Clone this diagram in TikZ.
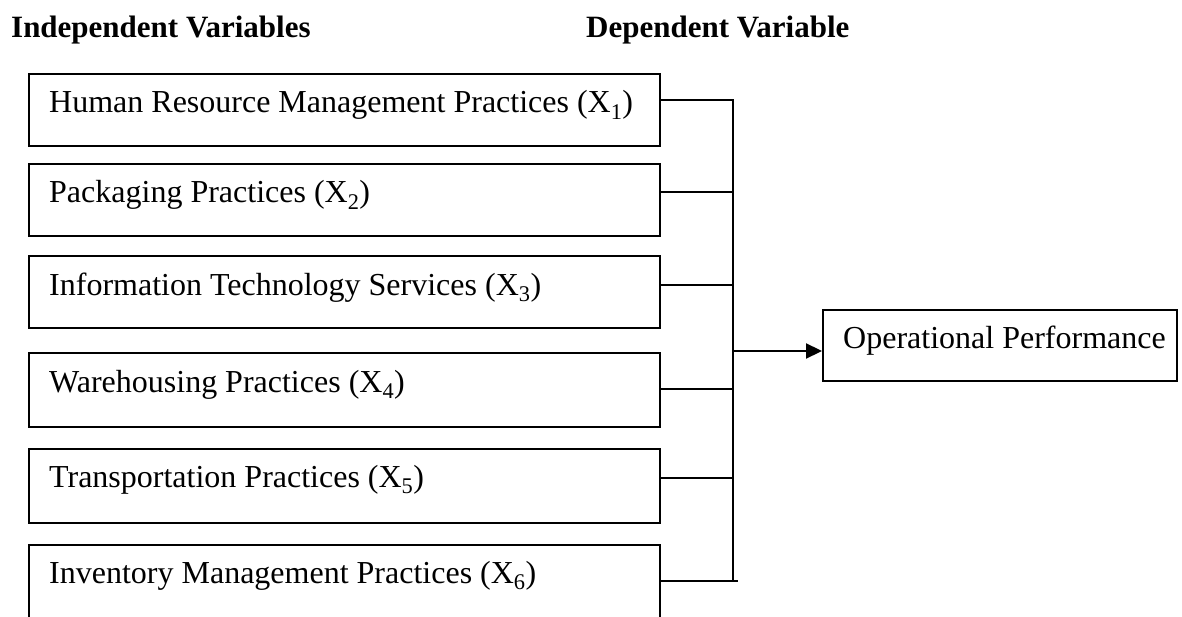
\documentclass[tikz,border=0pt]{standalone}
\usepackage{fontspec}
\setmainfont{Liberation Serif}
\usetikzlibrary{arrows.meta,calc}
\tikzset{
  ivbox/.style={draw, line width=1.6pt, anchor=north west, minimum width=631pt, minimum height=72pt, inner sep=0pt},
  lbl/.style={anchor=base west, inner sep=0pt, font=\fontsize{32}{38}\selectfont},
  hdr/.style={anchor=base west, inner sep=0pt, font=\fontsize{31}{37}\selectfont\bfseries},
  conn/.style={line width=1.6pt},
  arr/.style={line width=2.2pt, -{Triangle[length=16pt,width=15pt]}}
}
\begin{document}
\begin{tikzpicture}[x=1pt,y=-1pt]
\useasboundingbox (0,0) rectangle (1182,617);
\clip (0,0) rectangle (1182,617);
\node[hdr] (h1) at (11,38) {Independent Variables};
\node[hdr] (h2) at (586,38) {Dependent Variable};
\node[ivbox] (b1) at (28,73) {};
\node[ivbox] (b2) at (28,163) {};
\node[ivbox] (b3) at (28,255) {};
\node[ivbox, minimum height=74pt] (b4) at (28,352) {};
\node[ivbox, minimum height=74pt] (b5) at (28,448) {};
\node[ivbox, minimum height=110pt] (b6) at (28,544) {};
\node[lbl] (t1) at ($(b1.north west)+(21,40)$) {Human Resource Management Practices (X\textsubscript{1})};
\node[lbl] (t2) at ($(b2.north west)+(21,40)$) {Packaging Practices (X\textsubscript{2})};
\node[lbl] (t3) at ($(b3.north west)+(21,40)$) {Information Technology Services (X\textsubscript{3})};
\node[lbl] (t4) at ($(b4.north west)+(21,40)$) {Warehousing Practices (X\textsubscript{4})};
\node[lbl] (t5) at ($(b5.north west)+(21,39)$) {Transportation Practices (X\textsubscript{5})};
\node[lbl] (t6) at ($(b6.north west)+(21,39)$) {Inventory Management Practices (X\textsubscript{6})};
\node[draw, line width=1.6pt, anchor=north west, minimum width=354pt, minimum height=71pt, inner sep=0pt] (op) at (822,309) {};
\node[lbl] (top) at ($(op.north west)+(21,39)$) {Operational Performance};
\coordinate (v1) at (733,100);
\coordinate (v6) at (733,581);
\coordinate (v6e) at (738,581);
\coordinate (va) at (733,351);
\draw[conn] (b1.east |- v1) -- (v1) -- (v6);
\draw[conn] (b2.east |- 0,192) -- (733,192);
\draw[conn] (b3.east |- 0,285) -- (733,285);
\draw[conn] (b4.east |- 0,389) -- (733,389);
\draw[conn] (b5.east |- 0,478) -- (733,478);
\draw[conn] (b6.east |- v6) -- (v6e);
\draw[arr] (va) -- (op.west |- va);
\end{tikzpicture}
\end{document}
